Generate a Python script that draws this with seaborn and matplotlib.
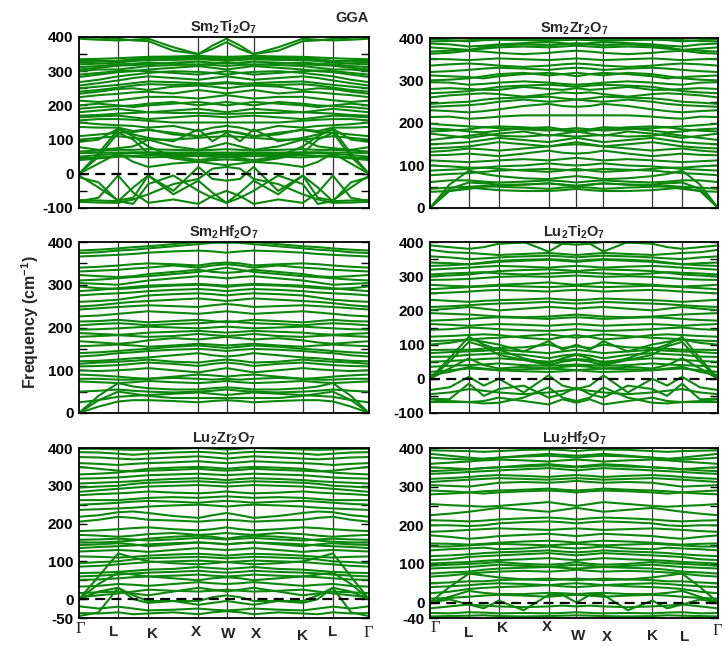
import numpy as np
import pandas as pd
import matplotlib
matplotlib.use("Agg")
import matplotlib.pyplot as plt
import seaborn as sns

sns.set_theme(style="white")
plt.rcParams["font.family"] = ["Liberation Sans", "DejaVu Sans"]
plt.rcParams["font.weight"] = "bold"
plt.rcParams["axes.unicode_minus"] = False
plt.rcParams["mathtext.fontset"] = "custom"
plt.rcParams["mathtext.bf"] = "Liberation Sans:bold"
plt.rcParams["mathtext.rm"] = "Liberation Sans:bold"

# high-symmetry path (distance units)
kpath_labels = ["Γ", "L", "K", "X", "W", "X", "K", "L", "Γ"]
kpath_nodes = [0, 39, 69, 119, 147, 174, 223, 253, 289]

titles = ["Sm$_\\mathbf{2}$Ti$_\\mathbf{2}$O$_\\mathbf{7}$", "Sm$_\\mathbf{2}$Zr$_\\mathbf{2}$O$_\\mathbf{7}$",
          "Sm$_\\mathbf{2}$Hf$_\\mathbf{2}$O$_\\mathbf{7}$", "Lu$_\\mathbf{2}$Ti$_\\mathbf{2}$O$_\\mathbf{7}$",
          "Lu$_\\mathbf{2}$Zr$_\\mathbf{2}$O$_\\mathbf{7}$", "Lu$_\\mathbf{2}$Hf$_\\mathbf{2}$O$_\\mathbf{7}$"]
ylims = [(-100, 400), (0, 400), (0, 400), (-100, 400), (-50, 400), (-40, 400)]

# band frequencies (cm^-1) at Γ,m,L,m,K,m,X,m,W,m,X,m,K,m,L,m,Γ
sm_ti = [
    [-77, -78, -80, -40, -5, -50, 20, -15, -20, -15, 20, -50, -5, -40, -80, -78, -77],
    [-80, -70, -5, -55, -85, -75, -88, -65, -50, -65, -88, -75, -85, -55, -5, -70, -80],
    [-10, -25, -80, -88, -30, -5, -50, -70, -85, -70, -50, -5, -30, -88, -80, -25, -10],
    [-82, -84, -85, -75, -60, -30, -15, 15, 20, 15, -15, -30, -60, -75, -85, -84, -82],
    [-5, -40, -78, -70, -5, -60, -20, -55, -85, -55, -20, -60, -5, -70, -78, -40, -5],
    [0, 60, 130, 110, 80, 50, 40, 45, 50, 45, 40, 50, 80, 110, 130, 60, 0],
    [0, 50, 120, 100, 60, 45, 35, 40, 42, 40, 35, 45, 60, 100, 120, 50, 0],
    [0, 30, 60, 35, 20, 30, 35, 30, 25, 30, 35, 30, 20, 35, 60, 30, 0],
    [40, 45, 50, 52, 55, 55, 55, 55, 55, 55, 55, 55, 55, 52, 50, 45, 40],
    [45, 48, 52, 50, 48, 50, 52, 50, 48, 50, 52, 50, 48, 50, 52, 48, 45],
    [50, 55, 58, 60, 60, 58, 58, 60, 60, 60, 58, 58, 60, 60, 58, 55, 50],
    [60, 62, 62, 63, 63, 62, 62, 62, 62, 62, 62, 62, 63, 63, 62, 62, 60],
    [65, 68, 70, 70, 72, 70, 68, 70, 72, 70, 68, 70, 72, 70, 70, 68, 65],
    [78, 70, 75, 80, 100, 80, 70, 80, 90, 80, 70, 80, 100, 80, 75, 70, 78],
    [93, 100, 132, 115, 105, 95, 130, 95, 120, 95, 130, 95, 105, 115, 132, 100, 93],
    [100, 105, 110, 105, 100, 100, 105, 108, 110, 108, 105, 100, 100, 105, 110, 105, 100],
    [110, 115, 120, 122, 128, 120, 110, 118, 125, 118, 110, 120, 128, 122, 120, 115, 110],
    [137, 135, 135, 125, 130, 115, 110, 120, 125, 120, 110, 115, 130, 125, 135, 135, 137],
    [150, 145, 142, 140, 135, 140, 125, 135, 140, 135, 125, 140, 135, 140, 142, 145, 150],
    [156, 160, 160, 158, 155, 150, 150, 150, 150, 150, 150, 150, 155, 158, 160, 160, 156],
    [165, 168, 170, 165, 160, 165, 170, 168, 165, 168, 170, 165, 160, 165, 170, 168, 165],
    [170, 172, 176, 178, 180, 178, 178, 176, 175, 176, 178, 178, 180, 178, 176, 172, 170],
    [180, 185, 190, 185, 180, 185, 190, 185, 180, 185, 190, 185, 180, 185, 190, 185, 180],
    [190, 195, 198, 200, 205, 210, 200, 205, 210, 205, 200, 210, 205, 200, 198, 195, 190],
    [200, 205, 200, 195, 200, 205, 210, 205, 200, 205, 210, 205, 200, 195, 200, 205, 200],
    [214, 210, 215, 220, 225, 225, 220, 225, 230, 225, 220, 225, 225, 220, 215, 210, 214],
    [224, 230, 234, 238, 240, 235, 245, 240, 235, 240, 245, 235, 240, 238, 234, 230, 224],
    [234, 240, 248, 250, 245, 255, 258, 255, 250, 255, 258, 255, 245, 250, 248, 240, 234],
    [240, 245, 252, 258, 262, 260, 262, 265, 268, 265, 262, 260, 262, 258, 252, 245, 240],
    [250, 255, 260, 265, 270, 268, 265, 262, 265, 262, 265, 268, 270, 265, 260, 255, 250],
    [258, 265, 273, 280, 285, 280, 275, 280, 285, 280, 275, 280, 285, 280, 273, 265, 258],
    [268, 275, 285, 290, 295, 300, 298, 295, 290, 295, 298, 300, 295, 290, 285, 275, 268],
    [283, 290, 297, 300, 305, 310, 315, 310, 305, 310, 315, 310, 305, 300, 297, 290, 283],
    [290, 295, 300, 302, 300, 295, 290, 295, 300, 295, 290, 295, 300, 302, 300, 295, 290],
    [300, 305, 305, 310, 315, 318, 320, 318, 315, 318, 320, 318, 315, 310, 305, 305, 300],
    [305, 310, 316, 318, 320, 325, 328, 325, 322, 325, 328, 325, 320, 318, 316, 310, 305],
    [312, 315, 320, 322, 325, 322, 318, 322, 325, 322, 318, 322, 325, 322, 320, 315, 312],
    [320, 322, 325, 330, 332, 333, 335, 333, 330, 333, 335, 333, 332, 330, 325, 322, 320],
    [325, 328, 330, 335, 336, 336, 338, 336, 335, 336, 338, 336, 336, 335, 330, 328, 325],
    [330, 330, 330, 333, 338, 340, 340, 340, 338, 340, 340, 340, 338, 333, 330, 330, 330],
    [335, 336, 338, 340, 342, 343, 345, 343, 342, 343, 345, 343, 342, 340, 338, 336, 335],
    [395, 392, 390, 392, 395, 370, 350, 365, 385, 365, 350, 370, 395, 392, 390, 392, 395],
    [400, 398, 395, 390, 388, 360, 350, 375, 395, 375, 350, 360, 388, 390, 395, 398, 400],
]
sm_zr = [
    [0, 40, 48, 45, 42, 40, 40, 42, 45, 42, 40, 40, 42, 45, 48, 40, 0],
    [0, 45, 60, 58, 55, 55, 58, 55, 52, 55, 58, 55, 55, 58, 60, 45, 0],
    [0, 55, 88, 80, 75, 70, 68, 72, 75, 72, 68, 70, 75, 80, 88, 55, 0],
    [38, 40, 45, 50, 52, 55, 58, 55, 52, 55, 58, 55, 52, 50, 45, 40, 38],
    [45, 48, 50, 52, 50, 48, 45, 48, 50, 48, 45, 48, 50, 52, 50, 48, 45],
    [61, 65, 65, 62, 60, 62, 65, 63, 60, 63, 65, 62, 60, 62, 65, 65, 61],
    [77, 80, 82, 85, 88, 90, 92, 90, 88, 90, 92, 90, 88, 85, 82, 80, 77],
    [88, 90, 92, 95, 92, 88, 85, 88, 92, 88, 85, 88, 92, 95, 92, 90, 88],
    [100, 98, 95, 95, 98, 100, 105, 102, 100, 102, 105, 100, 98, 95, 95, 98, 100],
    [112, 110, 108, 110, 112, 115, 112, 115, 118, 115, 112, 115, 112, 110, 108, 110, 112],
    [124, 125, 128, 125, 122, 128, 135, 130, 128, 130, 135, 128, 122, 125, 128, 125, 124],
    [132, 135, 140, 138, 135, 140, 145, 148, 150, 148, 145, 140, 135, 138, 140, 135, 132],
    [140, 142, 145, 150, 155, 150, 145, 150, 155, 150, 145, 150, 155, 150, 145, 142, 140],
    [150, 152, 155, 160, 165, 160, 155, 160, 165, 160, 155, 160, 165, 160, 155, 152, 150],
    [160, 165, 170, 175, 170, 168, 172, 170, 168, 170, 172, 168, 170, 175, 170, 165, 160],
    [175, 170, 165, 170, 175, 180, 170, 175, 180, 175, 170, 180, 175, 170, 165, 170, 175],
    [180, 182, 185, 190, 192, 190, 185, 182, 180, 182, 185, 190, 192, 190, 185, 182, 180],
    [187, 185, 180, 178, 182, 188, 190, 185, 182, 185, 190, 188, 182, 178, 180, 185, 187],
    [198, 195, 192, 190, 188, 185, 182, 185, 188, 185, 182, 185, 188, 190, 192, 195, 198],
    [214, 215, 210, 212, 215, 218, 218, 218, 218, 218, 218, 218, 215, 212, 210, 215, 214],
    [230, 228, 225, 228, 232, 240, 245, 240, 238, 240, 245, 240, 232, 228, 225, 228, 230],
    [238, 240, 242, 245, 250, 255, 250, 252, 255, 252, 250, 255, 250, 245, 242, 240, 238],
    [245, 248, 250, 255, 258, 260, 262, 258, 255, 258, 262, 260, 258, 255, 250, 248, 245],
    [260, 265, 268, 270, 268, 262, 268, 272, 270, 272, 268, 262, 268, 270, 268, 265, 260],
    [270, 272, 275, 280, 285, 288, 290, 288, 285, 288, 290, 288, 285, 280, 275, 272, 270],
    [280, 282, 280, 278, 278, 285, 280, 278, 282, 278, 280, 285, 278, 278, 280, 282, 280],
    [296, 295, 290, 292, 295, 298, 295, 292, 290, 292, 295, 298, 295, 292, 290, 295, 296],
    [300, 302, 305, 310, 315, 318, 312, 315, 318, 315, 312, 318, 315, 310, 305, 302, 300],
    [312, 310, 308, 305, 310, 315, 318, 315, 310, 315, 318, 315, 310, 305, 308, 310, 312],
    [320, 322, 325, 328, 330, 328, 325, 328, 330, 328, 325, 328, 330, 328, 325, 322, 320],
    [335, 338, 340, 338, 335, 332, 335, 338, 340, 338, 335, 332, 335, 338, 340, 338, 335],
    [351, 350, 348, 350, 352, 350, 348, 350, 352, 350, 348, 350, 352, 350, 348, 350, 351],
    [363, 365, 370, 368, 365, 362, 365, 368, 370, 368, 365, 362, 365, 368, 370, 365, 363],
    [368, 370, 372, 378, 382, 385, 383, 385, 388, 385, 383, 385, 382, 378, 372, 370, 368],
    [378, 375, 372, 375, 378, 380, 378, 380, 382, 380, 378, 380, 378, 375, 372, 375, 378],
    [387, 385, 380, 382, 385, 388, 390, 388, 385, 388, 390, 388, 385, 382, 380, 385, 387],
    [392, 393, 395, 398, 400, 398, 396, 398, 400, 398, 396, 398, 400, 398, 395, 393, 392],
    [398, 395, 392, 395, 396, 395, 393, 395, 396, 395, 393, 395, 396, 395, 392, 395, 398],
]
sm_hf = [
    [0, 30, 50, 45, 40, 35, 35, 35, 35, 35, 35, 35, 40, 45, 50, 30, 0],
    [0, 40, 70, 62, 58, 55, 55, 58, 60, 58, 55, 55, 58, 62, 70, 40, 0],
    [0, 15, 27, 30, 30, 28, 25, 28, 30, 28, 25, 28, 30, 30, 27, 15, 0],
    [25, 30, 38, 40, 42, 45, 48, 45, 42, 45, 48, 45, 42, 40, 38, 30, 25],
    [50, 52, 55, 52, 50, 48, 50, 52, 55, 52, 50, 48, 50, 52, 55, 52, 50],
    [74, 72, 70, 72, 75, 72, 70, 72, 75, 72, 70, 72, 75, 72, 70, 72, 74],
    [80, 80, 78, 78, 80, 82, 80, 78, 80, 78, 80, 82, 80, 78, 78, 80, 80],
    [90, 88, 85, 82, 80, 85, 90, 88, 85, 88, 90, 85, 80, 82, 85, 88, 90],
    [100, 98, 100, 102, 105, 100, 95, 100, 105, 100, 95, 100, 105, 102, 100, 98, 100],
    [109, 110, 112, 115, 118, 115, 110, 115, 118, 115, 110, 115, 118, 115, 112, 110, 109],
    [115, 118, 120, 122, 125, 120, 118, 122, 125, 122, 118, 120, 125, 122, 120, 118, 115],
    [121, 122, 125, 128, 130, 135, 140, 135, 132, 135, 140, 135, 130, 128, 125, 122, 121],
    [132, 135, 140, 142, 145, 148, 150, 148, 145, 148, 150, 148, 145, 142, 140, 135, 132],
    [140, 142, 145, 148, 150, 155, 158, 155, 152, 155, 158, 155, 150, 148, 145, 142, 140],
    [156, 158, 160, 158, 155, 158, 162, 160, 158, 160, 162, 158, 155, 158, 160, 158, 156],
    [168, 165, 162, 165, 170, 175, 172, 175, 178, 175, 172, 175, 170, 165, 162, 165, 168],
    [178, 180, 182, 180, 178, 180, 185, 182, 180, 182, 185, 180, 178, 180, 182, 180, 178],
    [187, 185, 183, 185, 188, 190, 192, 190, 188, 190, 192, 190, 188, 185, 183, 185, 187],
    [195, 196, 198, 200, 202, 200, 198, 200, 202, 200, 198, 200, 202, 200, 198, 196, 195],
    [205, 208, 210, 208, 205, 208, 210, 212, 215, 212, 210, 208, 205, 208, 210, 208, 205],
    [214, 215, 218, 215, 212, 215, 218, 215, 212, 215, 218, 215, 212, 215, 218, 215, 214],
    [226, 228, 232, 235, 238, 235, 232, 235, 238, 235, 232, 235, 238, 235, 232, 228, 226],
    [242, 245, 248, 250, 252, 250, 248, 252, 255, 252, 248, 250, 252, 250, 248, 245, 242],
    [249, 252, 257, 260, 262, 265, 268, 265, 262, 265, 268, 265, 262, 260, 257, 252, 249],
    [260, 262, 265, 270, 275, 278, 280, 278, 275, 278, 280, 278, 275, 270, 265, 262, 260],
    [275, 278, 280, 282, 285, 288, 290, 288, 285, 288, 290, 288, 285, 282, 280, 278, 275],
    [285, 288, 292, 295, 298, 300, 302, 300, 298, 300, 302, 300, 298, 295, 292, 288, 285],
    [296, 292, 290, 292, 295, 298, 300, 298, 295, 298, 300, 298, 295, 292, 290, 292, 296],
    [304, 302, 300, 305, 310, 315, 320, 318, 315, 318, 320, 315, 310, 305, 300, 302, 304],
    [310, 312, 315, 318, 320, 325, 330, 335, 340, 335, 330, 325, 320, 318, 315, 312, 310],
    [323, 320, 318, 320, 325, 330, 335, 330, 328, 330, 335, 330, 325, 320, 318, 320, 323],
    [331, 333, 335, 338, 340, 345, 340, 345, 348, 345, 340, 345, 340, 338, 335, 333, 331],
    [340, 342, 345, 348, 350, 348, 345, 350, 352, 350, 345, 348, 350, 348, 345, 342, 340],
    [366, 368, 370, 372, 375, 378, 380, 378, 375, 378, 380, 378, 375, 372, 370, 368, 366],
    [374, 376, 380, 382, 385, 390, 395, 398, 400, 398, 395, 390, 385, 382, 380, 376, 374],
    [380, 382, 385, 388, 390, 395, 400, 400, 398, 400, 400, 395, 390, 388, 385, 382, 380],
]
lu_ti = [
    [0, 60, 123, 100, 85, 60, 45, 60, 70, 60, 45, 60, 85, 100, 123, 60, 0],
    [0, 50, 108, 95, 70, 55, 40, 50, 55, 50, 40, 55, 70, 95, 108, 50, 0],
    [0, 30, 60, 40, 30, 35, 30, 35, 38, 35, 30, 35, 30, 40, 60, 30, 0],
    [11, 20, 35, 30, 25, 28, 30, 28, 25, 28, 30, 28, 25, 30, 35, 20, 11],
    [20, 25, 30, 28, 25, 22, 20, 22, 25, 22, 20, 22, 25, 28, 30, 25, 20],
    [35, 38, 40, 42, 45, 40, 38, 40, 42, 40, 38, 40, 45, 42, 40, 38, 35],
    [-33, -25, 6, -20, 0, -40, 10, -20, -30, -20, 10, -40, 0, -20, 6, -25, -33],
    [-45, -40, -30, -35, -40, -45, -40, -35, -30, -35, -40, -45, -40, -35, -30, -40, -45],
    [-58, -60, -14, -50, -30, -20, -55, -45, -25, -45, -55, -20, -30, -50, -14, -60, -58],
    [-68, -68, -68, -65, -55, -65, -75, -60, -70, -60, -75, -65, -55, -65, -68, -68, -68],
    [-60, -65, -68, -72, -70, -55, -25, -55, -65, -55, -25, -55, -70, -72, -68, -65, -60],
    [50, 52, 55, 58, 60, 55, 50, 55, 58, 55, 50, 55, 60, 58, 55, 52, 50],
    [64, 65, 70, 72, 75, 70, 60, 68, 72, 68, 60, 70, 75, 72, 70, 65, 64],
    [75, 78, 80, 82, 85, 80, 75, 80, 85, 80, 75, 80, 85, 82, 80, 78, 75],
    [84, 85, 85, 88, 90, 92, 100, 90, 95, 90, 100, 92, 90, 88, 85, 85, 84],
    [100, 105, 115, 108, 100, 80, 110, 85, 100, 85, 110, 80, 100, 108, 115, 105, 100],
    [110, 112, 115, 118, 120, 125, 130, 125, 120, 125, 130, 125, 120, 118, 115, 112, 110],
    [123, 125, 128, 130, 128, 120, 115, 122, 128, 122, 115, 120, 128, 130, 128, 125, 123],
    [143, 145, 150, 148, 145, 142, 140, 142, 145, 142, 140, 142, 145, 148, 150, 145, 143],
    [160, 158, 155, 158, 160, 158, 155, 158, 160, 158, 155, 158, 160, 158, 155, 158, 160],
    [170, 172, 175, 178, 180, 178, 175, 178, 180, 178, 175, 178, 180, 178, 175, 172, 170],
    [192, 190, 188, 185, 182, 180, 182, 185, 188, 185, 182, 180, 182, 185, 188, 190, 192],
    [201, 205, 210, 205, 200, 205, 210, 208, 205, 208, 210, 205, 200, 205, 210, 205, 201],
    [210, 212, 215, 218, 220, 222, 225, 222, 220, 222, 225, 222, 220, 218, 215, 212, 210],
    [231, 228, 225, 228, 230, 232, 235, 232, 230, 232, 235, 232, 230, 228, 225, 228, 231],
    [250, 252, 255, 258, 260, 258, 255, 258, 260, 258, 255, 258, 260, 258, 255, 252, 250],
    [262, 265, 268, 270, 272, 270, 268, 270, 272, 270, 268, 270, 272, 270, 268, 265, 262],
    [275, 272, 270, 272, 275, 278, 282, 278, 275, 278, 282, 278, 275, 272, 270, 272, 275],
    [289, 290, 292, 295, 298, 300, 298, 300, 302, 300, 298, 300, 298, 295, 292, 290, 289],
    [299, 302, 305, 310, 315, 318, 320, 318, 315, 318, 320, 318, 315, 310, 305, 302, 299],
    [305, 308, 310, 312, 308, 305, 308, 310, 312, 310, 308, 305, 308, 312, 310, 308, 305],
    [319, 322, 325, 328, 330, 328, 325, 328, 330, 328, 325, 328, 330, 328, 325, 322, 319],
    [330, 332, 335, 340, 345, 348, 350, 348, 345, 348, 350, 348, 345, 340, 335, 332, 330],
    [340, 338, 335, 338, 342, 345, 348, 345, 342, 345, 348, 345, 342, 338, 335, 338, 340],
    [358, 355, 350, 352, 355, 358, 360, 358, 355, 358, 360, 358, 355, 352, 350, 355, 358],
    [377, 370, 368, 365, 362, 365, 368, 365, 362, 365, 368, 365, 362, 365, 368, 370, 377],
    [390, 385, 380, 385, 395, 398, 400, 395, 392, 395, 400, 398, 395, 385, 380, 385, 390],
    [410, 410, 410, 410, 410, 400, 372, 395, 400, 395, 372, 400, 410, 410, 410, 410, 410],
]
lu_zr = [
    [0, 40, 70, 65, 60, 55, 50, 55, 58, 55, 50, 55, 60, 65, 70, 40, 0],
    [0, 60, 121, 110, 100, 95, 92, 95, 98, 95, 92, 95, 100, 110, 121, 60, 0],
    [0, 20, 30, 10, -5, -5, -5, 5, 10, 5, -5, -5, -5, 10, 30, 20, 0],
    [-45, -35, 30, 0, -10, -5, -15, -10, -5, -10, -15, -5, -10, 0, 30, -35, -45],
    [-19, -25, -20, -25, -30, -28, -25, -28, -30, -28, -25, -28, -30, -25, -20, -25, -19],
    [-37, -38, -35, -40, -38, -35, -40, -35, -32, -35, -40, -35, -38, -40, -35, -38, -37],
    [5, 10, 15, 20, 25, 22, 20, 22, 25, 22, 20, 22, 25, 20, 15, 10, 5],
    [16, 18, 20, 15, 10, 20, 30, 25, 20, 25, 30, 20, 10, 15, 20, 18, 16],
    [33, 35, 40, 38, 35, 40, 45, 42, 40, 42, 45, 40, 35, 38, 40, 35, 33],
    [51, 52, 55, 58, 60, 62, 65, 62, 60, 62, 65, 62, 60, 58, 55, 52, 51],
    [60, 62, 65, 68, 70, 72, 75, 72, 70, 72, 75, 72, 70, 68, 65, 62, 60],
    [69, 70, 72, 75, 78, 80, 85, 82, 80, 82, 85, 80, 78, 75, 72, 70, 69],
    [86, 88, 92, 95, 98, 100, 102, 100, 98, 100, 102, 100, 98, 95, 92, 88, 86],
    [95, 98, 100, 105, 108, 110, 112, 110, 108, 110, 112, 110, 108, 105, 100, 98, 95],
    [113, 112, 110, 112, 115, 118, 120, 118, 115, 118, 120, 118, 115, 112, 110, 112, 113],
    [126, 128, 130, 128, 125, 130, 135, 132, 130, 132, 135, 130, 125, 128, 130, 128, 126],
    [135, 138, 140, 142, 145, 148, 150, 148, 145, 148, 150, 148, 145, 142, 140, 138, 135],
    [143, 145, 148, 145, 140, 145, 150, 148, 145, 148, 150, 145, 140, 145, 148, 145, 143],
    [150, 150, 152, 155, 160, 165, 168, 165, 160, 165, 168, 165, 160, 155, 152, 150, 150],
    [157, 158, 160, 158, 155, 158, 162, 160, 158, 160, 162, 158, 155, 158, 160, 158, 157],
    [170, 168, 165, 168, 172, 175, 170, 172, 175, 172, 170, 175, 172, 168, 165, 168, 170],
    [180, 182, 185, 188, 190, 185, 182, 185, 190, 185, 182, 185, 190, 188, 185, 182, 180],
    [205, 210, 218, 215, 210, 208, 205, 208, 210, 208, 205, 208, 210, 215, 218, 210, 205],
    [218, 222, 230, 232, 228, 220, 215, 222, 228, 222, 215, 220, 228, 232, 230, 222, 218],
    [236, 238, 240, 242, 245, 248, 250, 248, 245, 248, 250, 248, 245, 242, 240, 238, 236],
    [250, 252, 255, 258, 260, 258, 255, 258, 260, 258, 255, 258, 260, 258, 255, 252, 250],
    [262, 262, 262, 265, 268, 270, 268, 270, 272, 270, 268, 270, 268, 265, 262, 262, 262],
    [275, 278, 280, 282, 285, 282, 280, 282, 285, 282, 280, 282, 285, 282, 280, 278, 275],
    [284, 288, 292, 295, 298, 300, 302, 300, 298, 300, 302, 300, 298, 295, 292, 288, 284],
    [295, 298, 300, 305, 308, 310, 312, 310, 308, 310, 312, 310, 308, 305, 300, 298, 295],
    [306, 308, 310, 312, 315, 318, 320, 318, 315, 318, 320, 318, 315, 312, 310, 308, 306],
    [319, 320, 322, 325, 328, 330, 332, 330, 328, 330, 332, 330, 328, 325, 322, 320, 319],
    [330, 332, 335, 340, 345, 348, 350, 348, 345, 348, 350, 348, 345, 340, 335, 332, 330],
    [350, 345, 340, 338, 340, 342, 345, 342, 340, 342, 345, 342, 340, 338, 340, 345, 350],
    [360, 358, 355, 358, 360, 362, 365, 362, 360, 362, 365, 362, 360, 358, 355, 358, 360],
    [376, 375, 372, 370, 372, 375, 378, 375, 372, 375, 378, 375, 372, 370, 372, 375, 376],
    [389, 388, 385, 382, 385, 388, 390, 388, 385, 388, 390, 388, 385, 382, 385, 388, 389],
    [398, 398, 396, 395, 396, 398, 400, 398, 396, 398, 400, 398, 396, 395, 396, 398, 398],
]
lu_hf = [
    [-15, -10, -5, -15, 5, -20, 20, 20, 0, 20, 20, -20, 5, -15, -5, -10, -15],
    [-27, -28, -25, -26, -28, -27, -28, -27, -25, -27, -28, -27, -28, -26, -25, -28, -27],
    [-36, -35, -34, -33, -35, -36, -35, -34, -33, -34, -35, -36, -35, -33, -34, -35, -36],
    [0, 8, -5, -8, -10, -12, -10, -8, -10, -8, -10, -12, -10, -8, -5, 8, 0],
    [0, 15, 30, 25, 22, 22, 25, 24, 22, 24, 25, 22, 22, 25, 30, 15, 0],
    [0, 40, 75, 70, 65, 60, 58, 60, 62, 60, 58, 60, 65, 70, 75, 40, 0],
    [10, 12, 15, 18, 20, 18, 15, 18, 20, 18, 15, 18, 20, 18, 15, 12, 10],
    [24, 28, 35, 38, 40, 42, 45, 42, 40, 42, 45, 42, 40, 38, 35, 28, 24],
    [40, 42, 45, 48, 50, 48, 45, 48, 50, 48, 45, 48, 50, 48, 45, 42, 40],
    [50, 52, 55, 55, 58, 60, 62, 60, 58, 60, 62, 60, 58, 55, 55, 52, 50],
    [67, 70, 75, 78, 80, 82, 80, 82, 85, 82, 80, 82, 80, 78, 75, 70, 67],
    [75, 78, 80, 85, 88, 90, 92, 90, 88, 90, 92, 90, 88, 85, 80, 78, 75],
    [88, 90, 92, 95, 98, 95, 92, 95, 98, 95, 92, 95, 98, 95, 92, 90, 88],
    [95, 98, 100, 102, 105, 100, 98, 100, 105, 100, 98, 100, 105, 102, 100, 98, 95],
    [101, 103, 105, 108, 110, 112, 115, 112, 110, 112, 115, 112, 110, 108, 105, 103, 101],
    [110, 112, 118, 120, 122, 125, 128, 125, 122, 125, 128, 125, 122, 120, 118, 112, 110],
    [120, 122, 125, 128, 130, 132, 135, 132, 130, 132, 135, 132, 130, 128, 125, 122, 120],
    [135, 138, 140, 142, 138, 140, 145, 142, 140, 142, 145, 140, 138, 142, 140, 138, 135],
    [145, 145, 148, 150, 152, 150, 148, 150, 152, 150, 148, 150, 152, 150, 148, 145, 145],
    [153, 152, 150, 152, 155, 158, 160, 158, 155, 158, 160, 158, 155, 152, 150, 152, 153],
    [174, 170, 165, 168, 172, 175, 178, 175, 172, 175, 178, 175, 172, 168, 165, 170, 174],
    [183, 185, 188, 190, 192, 190, 188, 190, 192, 190, 188, 190, 192, 190, 188, 185, 183],
    [200, 200, 198, 200, 205, 208, 210, 208, 205, 208, 210, 208, 205, 200, 198, 200, 200],
    [213, 212, 210, 212, 215, 218, 220, 218, 215, 218, 220, 218, 215, 212, 210, 212, 213],
    [226, 230, 235, 240, 245, 240, 235, 240, 245, 240, 235, 240, 245, 240, 235, 230, 226],
    [255, 252, 250, 248, 250, 255, 260, 255, 250, 255, 260, 255, 250, 248, 250, 252, 255],
    [280, 282, 285, 288, 290, 292, 295, 292, 290, 292, 295, 292, 290, 288, 285, 282, 280],
    [290, 288, 285, 282, 285, 288, 290, 288, 285, 288, 290, 288, 285, 282, 285, 288, 290],
    [304, 302, 300, 305, 310, 312, 310, 312, 315, 312, 310, 312, 310, 305, 300, 302, 304],
    [312, 315, 318, 320, 322, 320, 318, 320, 322, 320, 318, 320, 322, 320, 318, 315, 312],
    [320, 322, 325, 328, 330, 328, 325, 328, 330, 328, 325, 328, 330, 328, 325, 322, 320],
    [333, 335, 338, 340, 342, 345, 348, 345, 342, 345, 348, 345, 342, 340, 338, 335, 333],
    [340, 342, 345, 348, 350, 355, 358, 355, 352, 355, 358, 355, 350, 348, 345, 342, 340],
    [350, 348, 345, 348, 350, 352, 355, 352, 350, 352, 355, 352, 350, 348, 345, 348, 350],
    [359, 362, 365, 368, 370, 368, 365, 368, 370, 368, 365, 368, 370, 368, 365, 362, 359],
    [375, 372, 370, 372, 375, 380, 385, 382, 380, 382, 385, 380, 375, 372, 370, 372, 375],
    [385, 380, 375, 372, 375, 378, 380, 378, 375, 378, 380, 378, 375, 372, 375, 380, 385],
    [394, 393, 392, 390, 392, 395, 396, 395, 392, 395, 396, 395, 392, 390, 392, 393, 394],
]
panels = [sm_ti, sm_zr, sm_hf, lu_ti, lu_zr, lu_hf]

# k coordinate of each sample: nodes and segment midpoints
kx = []
for i in range(len(kpath_nodes) - 1):
    kx += [kpath_nodes[i], (kpath_nodes[i] + kpath_nodes[i + 1]) / 2]
kx.append(kpath_nodes[-1])

W, H = 725, 646
fig = plt.figure(figsize=(W / 100, H / 100), dpi=100)
boxes = [(79, 37, 369, 208), (430, 38, 718, 208), (79, 242, 369, 413),
         (430, 242, 718, 413), (79, 448, 369, 618), (430, 448, 718, 618)]
green = "#0b870b"

for p, (bands, (l, t, r, b)) in enumerate(zip(panels, boxes)):
    ax = fig.add_axes([l / W, 1 - b / H, (r - l) / W, (b - t) / H])
    rows = []
    for bi, band in enumerate(bands):
        for k, f in zip(kx, band):
            rows.append((bi, k, f))
    df = pd.DataFrame(rows, columns=["band", "k", "freq"])
    sns.lineplot(data=df, x="k", y="freq", units="band", estimator=None,
                 color=green, lw=1.5, ax=ax, sort=False, zorder=2)
    lo, hi = ylims[p]
    ax.set_xlim(kpath_nodes[0], kpath_nodes[-1])
    ax.set_ylim(lo, hi)
    for xn in kpath_nodes[1:-1]:
        ax.axvline(xn, color="#333333", lw=0.9, zorder=1)
    if lo < 0:
        ax.axhline(0, color="black", lw=1.6, ls=(0, (4.5, 2.8)), zorder=3)
    major = [lo] + [v for v in range(0, 401, 100) if v != lo] if lo < 0 else list(range(0, 401, 100))
    ax.set_yticks(major)
    ax.set_yticklabels([str(v) for v in major], fontsize=11, fontweight="bold")
    minor = [v for v in range(-50, 400, 100) if lo < v < hi]
    ax.set_yticks(minor, minor=True)
    ax.tick_params(axis="y", which="both", direction="in", left=True, right=True,
                   length=6, width=1, pad=4, colors="black")
    ax.set_xticks([])
    ax.set_xlabel("")
    ax.set_ylabel("")
    for s in ax.spines.values():
        s.set_color("black")
        s.set_linewidth(1.3)
        s.set_zorder(4)
    ax.set_title(titles[p], fontsize=10.5, fontweight="bold", pad=4)

fig.text(369 / W, 1 - 18 / H, "GGA", ha="right", va="center", fontsize=10.5, fontweight="bold")
fig.text(30 / W, 1 - 322 / H, "Frequency (cm$^{\\mathbf{-1}}$)", rotation=90,
         ha="center", va="center", fontsize=11.5, fontweight="bold")

# bottom k-point labels (pixel positions)
lab_bl = [(80, 629), (114, 632), (153, 634), (196, 632), (228, 634), (256, 634), (303, 636), (333, 632), (368, 633)]
lab_br = [(435, 628), (469, 633), (503, 628), (547, 627), (578, 636), (607, 637), (653, 636), (685, 637), (717, 631)]
for labs in (lab_bl, lab_br):
    for name, (x, y) in zip(kpath_labels, labs):
        if name == "Γ":
            fig.text(x / W, 1 - y / H, name, ha="center", va="center", fontsize=12,
                     family="Liberation Serif", fontweight="normal")
        else:
            fig.text(x / W, 1 - y / H, name, ha="center", va="center", fontsize=11, fontweight="bold")

fig.savefig("out.png", dpi=100)
